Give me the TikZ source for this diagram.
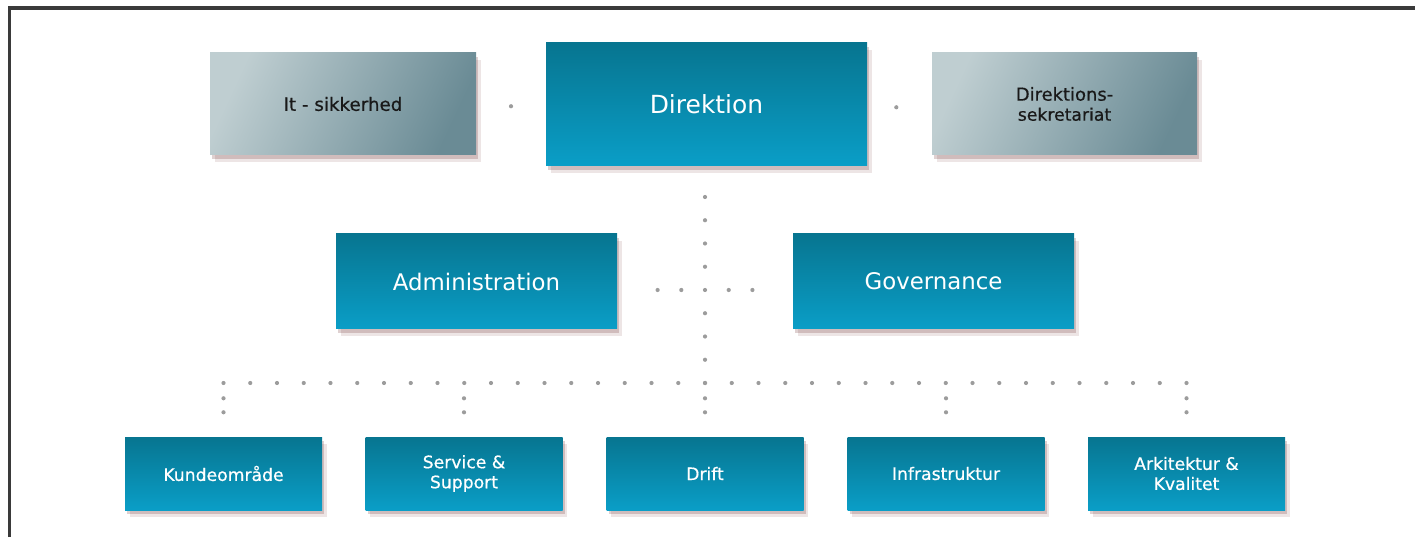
\documentclass[tikz,border=0pt]{standalone}
\usepackage{fontspec}
\setmainfont{DejaVu Sans}
\newfontfamily\semifont{DejaVu Sans}[FakeBold=0.6]
\usetikzlibrary{calc,shadows}
\definecolor{tealtop}{HTML}{077590}
\definecolor{tealbot}{HTML}{0A9EC7}
\definecolor{greylt}{HTML}{BFCED1}
\definecolor{greydk}{HTML}{6A8B95}
\definecolor{dotgray}{HTML}{9C9C9C}
\definecolor{framegray}{HTML}{3A3A3A}
\tikzset{
  boxshadow/.style={drop shadow={shadow xshift=1.4pt,shadow yshift=-2pt,opacity=0.1,fill=black!70!red},
                    drop shadow={shadow xshift=0.7pt,shadow yshift=-1.2pt,opacity=0.18,fill=black!70!red}},
  tealbox/.style={boxshadow,top color=tealtop,bottom color=tealbot,text=white,align=center,inner sep=0pt},
  greybox/.style={boxshadow,left color=greylt,right color=greydk,shading angle=65,text=black!90,align=center,inner sep=0pt},
  bigtext/.style={font=\fontsize{7.1}{8.5}\selectfont},
  midtext/.style={font=\fontsize{6.5}{7.8}\selectfont},
  smalltext/.style={font=\semifont\fontsize{4.9}{5.7}\selectfont},
  dot/.style={fill=dotgray}
}
\begin{document}
\begin{tikzpicture}
\useasboundingbox (0,0) rectangle (14.15,5.37);
%\draw[step=0.5cm,gray,very thin] (0,0) grid (14.15,5.37); %background grid
\draw[framegray, line width=0.9pt] (0.097,0) -- (0.097,5.29) -- (14.15,5.29);
% top row
\node[greybox, smalltext, minimum width=2.66cm, minimum height=1.02cm] (it) at (3.43,4.33) {\fontsize{5.2}{6}\selectfont It - sikkerhed};
\node[tealbox, bigtext, minimum width=3.21cm, minimum height=1.23cm] (dir) at (7.065,4.325) {Direktion};
\node[greybox, smalltext, minimum width=2.65cm, minimum height=1.02cm] (sek) at (10.645,4.33) {\fontsize{5.1}{5.8}\selectfont Direktions-\\sekretariat};
% middle row
\node[tealbox, midtext, minimum width=2.81cm, minimum height=0.95cm] (adm) at (4.765,2.555) {Administration};
\node[tealbox, midtext, minimum width=2.81cm, minimum height=0.95cm] (gov) at (9.335,2.555) {Governance};
% bottom row
\node[tealbox, smalltext, minimum width=1.97cm, minimum height=0.73cm] (kun) at (2.235,0.635) {Kundeområde};
\node[tealbox, smalltext, minimum width=1.97cm, minimum height=0.73cm] (ser) at (4.64,0.635) {Service \&\\Support};
\node[tealbox, smalltext, minimum width=1.97cm, minimum height=0.73cm] (dri) at (7.05,0.635) {Drift};
\node[tealbox, smalltext, minimum width=1.97cm, minimum height=0.73cm] (inf) at (9.46,0.635) {Infrastruktur};
\node[tealbox, smalltext, minimum width=1.97cm, minimum height=0.73cm] (ark) at (11.865,0.635) {Arkitektur \&\\Kvalitet};
% dotted connectors
\fill[dot] ($(it.east)!0.5!(dir.west)$) ++(0,-0.02) circle (0.021);
\fill[dot] ($(dir.east)!0.45!(sek.west)$) ++(0,-0.03) circle (0.021);
\coordinate (vtop) at (7.05,3.40);
\coordinate (hub) at (7.05,1.54);
\foreach \i in {0,...,8}
  \fill[dot] ($(vtop)!\i/8!(hub)$) circle (0.021);
\coordinate (cross) at ($(vtop)!4/8!(hub)$);
\foreach \i in {-2,-1,1,2}
  \fill[dot] ([xshift=\i*0.237cm]cross) circle (0.021);
\coordinate (rowl) at (kun.north |- hub);
\coordinate (rowr) at (ark.north |- hub);
\foreach \i in {0,...,36}
  \fill[dot] ($(rowl)!\i/36!(rowr)$) circle (0.021);
\foreach \b in {kun,ser,dri,inf,ark}{
  \fill[dot] ([yshift=0.38cm]\b.north) circle (0.021);
  \fill[dot] ([yshift=0.24cm]\b.north) circle (0.021);
}
\end{tikzpicture}
\end{document}
